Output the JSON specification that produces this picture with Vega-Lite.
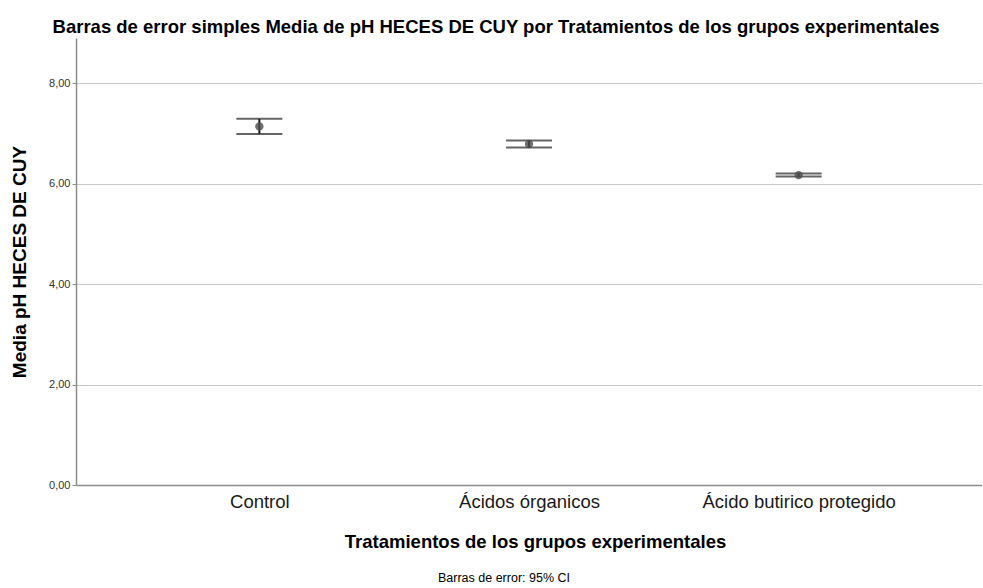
{
  "$schema": "https://vega.github.io/schema/vega-lite/v6.json",
  "padding": {"left": 10, "top": 17, "right": 0, "bottom": 0},
  "background": "white",
  "title": {
    "text": "Barras de error simples Media de pH HECES DE CUY por Tratamientos de los grupos experimentales",
    "font": "Liberation Sans",
    "fontSize": 18.5,
    "fontWeight": "bold",
    "color": "#000000",
    "anchor": "middle",
    "frame": "group",
    "dx": -33,
    "offset": 2
  },
  "datasets": {
    "d": [
      {"grupo": "Control", "media": 7.14, "lo": 6.99, "hi": 7.29},
      {"grupo": "Ácidos órganicos", "media": 6.79, "lo": 6.72, "hi": 6.86},
      {"grupo": "Ácido butirico protegido", "media": 6.17, "lo": 6.14, "hi": 6.2}
    ]
  },
  "vconcat": [
    {
      "width": 906,
      "height": 447,
      "title": {
        "text": "Barras de error: 95% CI",
        "orient": "bottom",
        "font": "Liberation Sans",
        "fontSize": 12.5,
        "fontWeight": "normal",
        "color": "#000000",
        "anchor": "middle",
        "dx": -25,
        "offset": 21
      },
      "data": {"name": "d"},
      "encoding": {
        "x": {
          "field": "grupo",
          "type": "nominal",
          "sort": ["Control", "Ácidos órganicos", "Ácido butirico protegido"],
          "scale": {"type": "point", "padding": 0.68},
          "axis": {
            "title": "Tratamientos de los grupos experimentales",
            "labelAngle": 0,
            "labelFont": "Liberation Sans",
            "labelFontSize": 18.5,
            "labelColor": "#1a1a1a",
            "labelPadding": 7,
            "labelLimit": 0,
            "ticks": false,
            "domainColor": "#8c8c8c",
            "domainWidth": 1.5,
            "grid": false,
            "titleFont": "Liberation Sans",
            "titleFontSize": 18.5,
            "titleFontWeight": "bold",
            "titleColor": "#000000",
            "titlePadding": 22,
            "titleX": 459
          }
        }
      },
      "layer": [
        {
          "mark": {"type": "rule", "color": "#1a1a1a", "strokeWidth": 2},
          "encoding": {
            "y": {
              "field": "lo",
              "type": "quantitative",
              "scale": {"domain": [0, 8.9], "nice": false},
              "axis": {
                "title": "Media pH HECES DE CUY",
                "values": [0, 2, 4, 6, 8],
                "labelExpr": "replace(format(datum.value, '.2f'), '.', ',')",
                "labelFont": "Liberation Sans",
                "labelFontSize": 11,
                "labelColor": "#333333",
                "tickSize": 4,
                "tickColor": "#8c8c8c",
                "domainColor": "#8c8c8c",
                "domainWidth": 1.5,
                "gridColor": "#c8c8c8",
                "gridWidth": 1,
                "titleFont": "Liberation Sans",
                "titleFontSize": 19,
                "titleFontWeight": "bold",
                "titleColor": "#000000",
                "titlePadding": 19
              }
            },
            "y2": {"field": "hi"}
          }
        },
        {
          "mark": {"type": "tick", "orient": "horizontal", "color": "#222222", "size": 46, "thickness": 2},
          "encoding": {"y": {"field": "lo", "type": "quantitative"}}
        },
        {
          "mark": {"type": "tick", "orient": "horizontal", "color": "#222222", "size": 46, "thickness": 2},
          "encoding": {"y": {"field": "hi", "type": "quantitative"}}
        },
        {
          "mark": {"type": "circle", "color": "#4d4d4d", "opacity": 0.8, "size": 70},
          "encoding": {"y": {"field": "media", "type": "quantitative"}}
        }
      ]
    }
  ],
  "config": {"view": {"stroke": null}}
}
